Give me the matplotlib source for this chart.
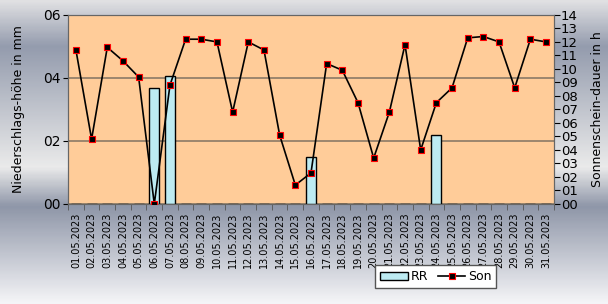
import matplotlib.pyplot as plt
import numpy as np
from matplotlib.colors import LinearSegmentedColormap

days = ['%02d.05.2023' % d for d in range(1, 32)]
rain = [0, 0, 0, 0, 0, 3.67, 4.07, 0, 0, 0, 0, 0, 0, 0, 0, 1.49,
        0, 0, 0, 0, 0, 0, 0, 2.18, 0, 0, 0, 0, 0, 0, 0]
sun = [11.4, 4.8, 11.6, 10.6, 9.4, 0.0, 8.8, 12.2, 12.2, 12.0, 6.8, 12.0,
       11.4, 5.1, 1.4, 2.3, 10.4, 9.9, 7.5, 3.4, 6.8, 11.8, 4.0, 7.5,
       8.6, 12.3, 12.4, 12.0, 8.6, 12.2, 12.0]
left_ticks = [0, 2, 4, 6]
right_ticks = list(range(0, 15))

fig = plt.figure(figsize=(6.08, 3.04), dpi=100)

# gray gradient background
bg = fig.add_axes([0, 0, 1, 1], zorder=-10)
stops = [(0.0, (0.88, 0.88, 0.89)), (0.15, (0.58, 0.61, 0.68)),
         (0.55, (0.92, 0.92, 0.92)), (0.68, (0.56, 0.59, 0.66)),
         (1.0, (0.96, 0.96, 0.97))]
cmap = LinearSegmentedColormap.from_list('bg', stops)
grad = np.linspace(0, 1, 300).reshape(-1, 1)
bg.imshow(grad, aspect='auto', cmap=cmap, extent=[0, 1, 0, 1], origin='upper')
bg.axis('off')

ax = fig.add_axes([0.112, 0.329, 0.799, 0.622])
ax.set_facecolor('#FFCC99')
x = np.arange(len(days))
b = ax.bar(x, rain, 0.65, color='#BDEBF2', edgecolor='black', linewidth=1.0,
           zorder=3, label='RR')
ax.set_ylim(0, 6)
ax.set_xlim(-0.5, 30.5)
ax.set_yticks(left_ticks)
ax.set_yticklabels(['%02d' % v for v in left_ticks], fontsize=10)
ax.tick_params(axis='y', pad=2)
ax.set_ylabel('Niederschlags-höhe in mm', fontsize=9)
ax.yaxis.set_label_coords(-0.088, 0.5)
ax.set_xticks(x)
ax.set_xticklabels(days, rotation=90, fontsize=7)
ax.tick_params(axis='x', length=0, pad=6)
ax.set_xticks(np.arange(-0.5, 31, 1), minor=True)
ax.tick_params(axis='x', which='minor', length=4, color='#555555')
ax.grid(axis='y', color='#8B7A66', linewidth=1.2, zorder=1)
for s in ax.spines.values():
    s.set_color('#666666')

ax2 = ax.twinx()
l, = ax2.plot(x, sun, color='black', linewidth=1.2, marker='s', markersize=5,
              markerfacecolor='black', markeredgecolor='red', markeredgewidth=0.8,
              zorder=4, label='Son')
ax2.set_ylim(0, 14)
ax2.set_yticks(right_ticks)
ax2.set_yticklabels(['%02d' % v for v in right_ticks], fontsize=9.5)
ax2.tick_params(axis='y', pad=1, length=4)
ax2.set_ylabel('Sonnenschein-dauer in h', fontsize=9)
ax2.yaxis.set_label_coords(1.076, 0.5)
for s in ax2.spines.values():
    s.set_color('#666666')

leg = fig.legend([b, l], ['RR', 'Son'], loc='center', bbox_to_anchor=(0.717, 0.089),
                 ncol=2, fontsize=9, frameon=True, fancybox=False,
                 handlelength=2.2, handletextpad=0.2, columnspacing=0.8,
                 borderpad=0.4)
leg.get_frame().set_edgecolor('#555555')
leg.get_frame().set_facecolor('white')
leg.get_frame().set_alpha(1)

fig.savefig('out.png', dpi=100)
